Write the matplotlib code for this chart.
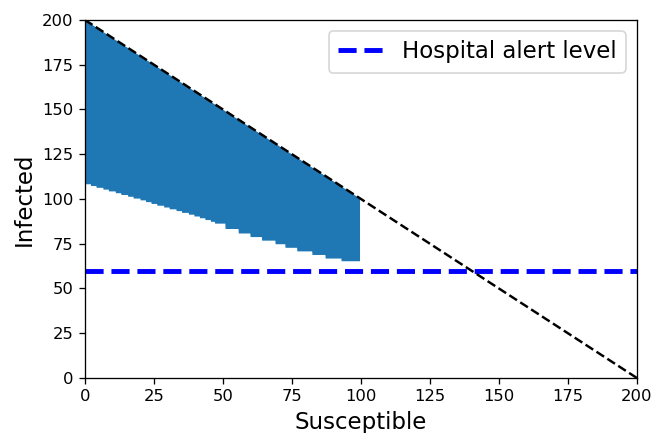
import numpy as np
import matplotlib.pyplot as plt

# lower edge of the feasible (S, I) region (step function)
edge_S = [0, 2, 4, 6.5, 8.5, 11, 13, 15.5, 17.5, 20, 22, 24, 26, 28.5, 30.5, 33, 35, 37.5, 39.5, 41.5, 43.5, 45.5,
          47, 50.7, 55.5, 59.8, 64, 68.9, 72.5, 76.7, 82.2, 87, 92.8]
edge_I = [108.5, 107.5, 106.5, 105.5, 104.5, 103.5, 102.5, 101.5, 100.5, 99.5, 98.5, 97.5, 96.5, 95.5, 94.5, 93.5,
          92.5, 91.5, 90.5, 89.5, 88.5, 87.5,
          86.5, 83.5, 81, 79, 77, 75, 73, 71, 69, 67, 65.5]
S_max = 99.5

N = 200
alert_level = 60

fig = plt.figure(figsize=(658 / 117.5, 433 / 117.5))
ax = fig.add_axes([0.129, 0.127, 0.839, 0.827])

s = np.array(edge_S)
s_fine = np.linspace(0, S_max, 1000)
low_fine = np.array(edge_I)[np.searchsorted(s, s_fine, side="right") - 1]
ax.fill_between(s_fine, low_fine, N - s_fine, color="#1f77b4", linewidth=0)

ax.axhline(alert_level, color="blue", linestyle="--", linewidth=3, label="Hospital alert level")
ax.plot([0, N], [N, 0], "k--", linewidth=1.5)

ax.set_xlim(0, N)
ax.set_ylim(0, N)
ax.set_xlabel("Susceptible", fontsize=14)
ax.set_ylabel("Infected", fontsize=14)
ax.legend(loc="upper right", fontsize=14)

plt.savefig("out.png", dpi=117.5)
plt.close()
